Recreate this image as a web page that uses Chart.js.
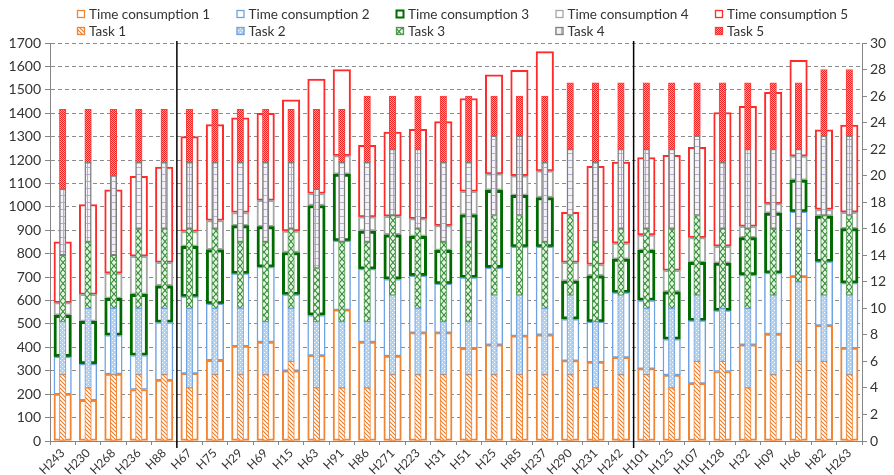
<!DOCTYPE html>
<html>
<head>
<meta charset="utf-8">
<title>Time consumption and tasks</title>
<script src="https://cdn.jsdelivr.net/npm/chart.js@4.4.1/dist/chart.umd.min.js"></script>
<style>
  html, body { margin: 0; padding: 0; background: #fff; }
  #wrap { position: relative; width: 894px; height: 475px; }
</style>
</head>
<body>
<div id="wrap"><canvas id="chart"></canvas></div>
<script>
// categories (hosts) and the index where each new group starts
const categories = ["H243", "H230", "H268", "H236", "H88", "H67", "H75", "H29", "H69", "H15",
    "H63", "H91", "H86", "H271", "H223", "H31", "H51", "H25", "H85", "H237", "H290", "H231",
    "H242", "H101", "H125", "H107", "H128", "H32", "H09", "H66", "H82", "H263"];
const groupStarts = [5, 23];

// time consumption per stage (left axis)
const timeConsumption1 = [200, 174, 286, 220, 260, 289, 345, 405, 423, 300, 366, 560, 423, 363, 463, 463,
    396, 411, 449, 454, 343, 337, 357, 309, 282, 246, 297, 411, 457, 703, 494, 397];
const timeConsumption2 = [160, 155, 165, 146, 246, 328, 241, 310, 320, 325, 171, 295, 311, 328, 243, 208,
    302, 329, 380, 375, 177, 172, 277, 291, 152, 268, 260, 298, 260, 276, 272, 277];
const timeConsumption3 = [177, 182, 158, 260, 157, 214, 231, 205, 173, 180, 469, 285, 163, 190, 168, 143,
    268, 331, 220, 211, 163, 197, 143, 214, 203, 249, 203, 160, 256, 135, 195, 233];
const timeConsumption4 = [54, 115, 108, 163, 100, 64, 125, 56, 112, 92, 51, 79, 60, 79, 76, 106,
    100, 70, 84, 114, 80, 48, 68, 66, 92, 106, 72, 48, 41, 103, 28, 70];
const timeConsumption5 = [260, 384, 356, 342, 407, 405, 410, 404, 372, 560, 489, 367, 306, 360, 381, 444,
    397, 423, 450, 509, 214, 419, 346, 331, 491, 385, 571, 512, 475, 409, 340, 372];

// number of tasks per stage (right axis)
const task1 = [5, 4, 5, 5, 5, 4, 5, 5, 5, 6, 4, 4, 4, 5, 5, 5, 5, 5, 5, 5, 5, 4, 5, 5, 4, 6, 6, 4, 5, 6, 6, 5];
const task2 = [4, 6, 5, 5, 5, 6, 5, 5, 4, 4, 5, 5, 5, 6, 5, 4, 4, 6, 6, 5, 6, 5, 6, 5, 6, 5, 4, 6, 6, 6, 5, 6];
const task3 = [5, 5, 4, 6, 6, 6, 6, 5, 6, 6, 4, 6, 6, 6, 6, 6, 6, 6, 6, 5, 6, 6, 5, 6, 6, 6, 6, 6, 5, 4, 6, 6];
const task4 = [5, 6, 6, 5, 5, 5, 5, 6, 6, 5, 6, 6, 6, 5, 6, 6, 6, 6, 6, 6, 5, 6, 6, 6, 6, 6, 5, 6, 6, 6, 6, 6];
const task5 = [6, 4, 5, 4, 4, 4, 4, 4, 4, 4, 6, 4, 5, 4, 4, 5, 5, 3, 3, 5, 5, 6, 5, 5, 5, 4, 6, 5, 5, 5, 5, 5];

// axis ranges
const leftMax = 1700, leftStep = 100;
const rightMax = 30, rightStep = 2;

const FONT = "Lato";
const TEXT = "#333333";
const AXIS = "#868686";

// small repeating fills for the task bars
function makePattern(kind) {
    const c = document.createElement("canvas");
    const g = c.getContext("2d");
    if (kind === "diag") {
        c.width = c.height = 4;
        g.fillStyle = "#ffffff"; g.fillRect(0, 0, 4, 4);
        g.strokeStyle = "#EE7B25"; g.lineWidth = 1.1;
        g.beginPath();
        g.moveTo(-1, -1); g.lineTo(5, 5);
        g.moveTo(-1, 3); g.lineTo(1, 5);
        g.moveTo(3, -1); g.lineTo(5, 1);
        g.stroke();
    } else if (kind === "dots") {
        c.width = c.height = 4;
        g.fillStyle = "#ADD2F2"; g.fillRect(0, 0, 4, 4);
        g.fillStyle = "#ffffff";
        g.fillRect(0, 0, 1, 1); g.fillRect(2, 2, 1, 1);
    } else if (kind === "cross") {
        c.width = 6; c.height = 7;
        g.fillStyle = "#E6F3E6"; g.fillRect(0, 0, 6, 7);
        g.strokeStyle = "#2F8A2F"; g.lineWidth = 1.1;
        g.beginPath();
        g.moveTo(0, 0); g.lineTo(6, 7);
        g.moveTo(6, 0); g.lineTo(0, 7);
        g.stroke();
    } else if (kind === "grid") {
        c.width = 6; c.height = 7;
        g.fillStyle = "#F5F3F9"; g.fillRect(0, 0, 6, 7);
        g.fillStyle = "#B4AACD";
        g.fillRect(0, 6, 6, 1); g.fillRect(3, 0, 1, 7);
    } else {
        c.width = c.height = 2;
        g.fillStyle = "#F41E1E"; g.fillRect(0, 0, 2, 2);
        g.fillStyle = "#FFA3A3";
        g.fillRect(1, 0, 1, 1); g.fillRect(0, 1, 1, 1);
    }
    return g.createPattern(c, "repeat");
}

function timeSet(label, data, color, width) {
    return {
        label: label, data: data, yAxisID: "y", stack: "time", order: 1,
        backgroundColor: "#ffffff", borderColor: color, borderWidth: width,
        borderSkipped: false, barThickness: 17.5, grouped: false
    };
}

function taskSet(label, data, fill, color, width) {
    return {
        label: label, data: data, yAxisID: "y2", stack: "task", order: 0,
        backgroundColor: fill, borderColor: color, borderWidth: width,
        borderSkipped: false, barThickness: 6.5, grouped: false
    };
}

// legend laid out as a 5 x 2 grid like the original
const gridLegend = {
    id: "gridLegend",
    afterDraw(chart) {
        const ctx = chart.ctx;
        ctx.save();
        ctx.font = "13.5px " + FONT;
        ctx.textBaseline = "middle";
        chart.data.datasets.forEach((ds, i) => {
            const col = i % 5, row = Math.floor(i / 5);
            const x = 77 + col * 159.5;
            const y = row === 0 ? 14 : 31;
            ctx.fillStyle = ds.backgroundColor;
            ctx.fillRect(x, y - 4, 8, 8);
            ctx.strokeStyle = ds.borderColor;
            ctx.lineWidth = row === 0 && i === 2 ? 2 : 1.3;
            ctx.strokeRect(x + 0.5, y - 3.5, 7, 7);
            ctx.fillStyle = TEXT;
            ctx.fillText(ds.label, x + 12, y + 0.5);
        });
        ctx.restore();
    }
};

// vertical black lines between the host groups
const groupLines = {
    id: "groupLines",
    afterDatasetsDraw(chart) {
        const xs = chart.scales.x, area = chart.chartArea, ctx = chart.ctx;
        ctx.save();
        ctx.strokeStyle = "#000000";
        ctx.lineWidth = 1.5;
        groupStarts.forEach(i => {
            const px = (xs.getPixelForValue(i - 1) + xs.getPixelForValue(i)) / 2;
            ctx.beginPath();
            ctx.moveTo(px, area.top - 2);
            ctx.lineTo(px, area.bottom + 7);
            ctx.stroke();
        });
        ctx.restore();
    }
};

const chartData = {
    labels: categories,
    datasets: [
        timeSet("Time consumption 1", timeConsumption1, "#F28534", 2),
        timeSet("Time consumption 2", timeConsumption2, "#6FA2E2", 1.5),
        timeSet("Time consumption 3", timeConsumption3, "#006B00", 3),
        timeSet("Time consumption 4", timeConsumption4, "#A6A6A6", 2),
        timeSet("Time consumption 5", timeConsumption5, "#FF2A2A", 2),
        taskSet("Task 1", task1, makePattern("diag"), "#F28534", 1),
        taskSet("Task 2", task2, makePattern("dots"), "#6FA2E2", 1),
        taskSet("Task 3", task3, makePattern("cross"), "#4E9A4E", 1),
        taskSet("Task 4", task4, makePattern("grid"), "#7F7F7F", 1.5),
        taskSet("Task 5", task5, makePattern("checker"), "#FF3B3B", 1)
    ]
};

const tickFont = { family: FONT, size: 14 };
// plain numbers, no thousands separator
const plainTick = (value) => String(value);

const chartOptions = {
    responsive: true,
    maintainAspectRatio: false,
    animation: false,
    layout: { padding: { top: 43, left: 0, right: 0, bottom: 0 } },
    plugins: {
        legend: { display: false },
        tooltip: { enabled: false }
    },
    scales: {
        x: {
            stacked: true,
            grid: { drawOnChartArea: false, color: AXIS, tickLength: 4 },
            border: { color: AXIS },
            ticks: {
                autoSkip: false, minRotation: 45, maxRotation: 45, padding: 1,
                color: TEXT, font: { family: FONT, size: 12 }
            },
            afterFit: (s) => { s.height = 34; }
        },
        y: {
            position: "left",
            stacked: true,
            min: 0, max: leftMax,
            grid: { color: "#8C8C8C", tickColor: AXIS, tickLength: 5 },
            border: { color: AXIS, dash: [4, 3] },
            ticks: { stepSize: leftStep, padding: 4, color: TEXT, font: tickFont, callback: plainTick },
            afterFit: (s) => { s.width = 50; }
        },
        y2: {
            position: "right",
            stacked: true,
            min: 0, max: rightMax,
            grid: { drawOnChartArea: false, color: AXIS, tickLength: 5 },
            border: { color: AXIS },
            ticks: { stepSize: rightStep, padding: 3, color: TEXT, font: tickFont, callback: plainTick },
            afterFit: (s) => { s.width = 32; }
        }
    }
};

document.fonts.load("14px " + FONT).then(() => {
    new Chart("chart", {
        type: "bar",
        data: chartData,
        options: chartOptions,
        plugins: [gridLegend, groupLines]
    });
});
</script>
</body>
</html>
